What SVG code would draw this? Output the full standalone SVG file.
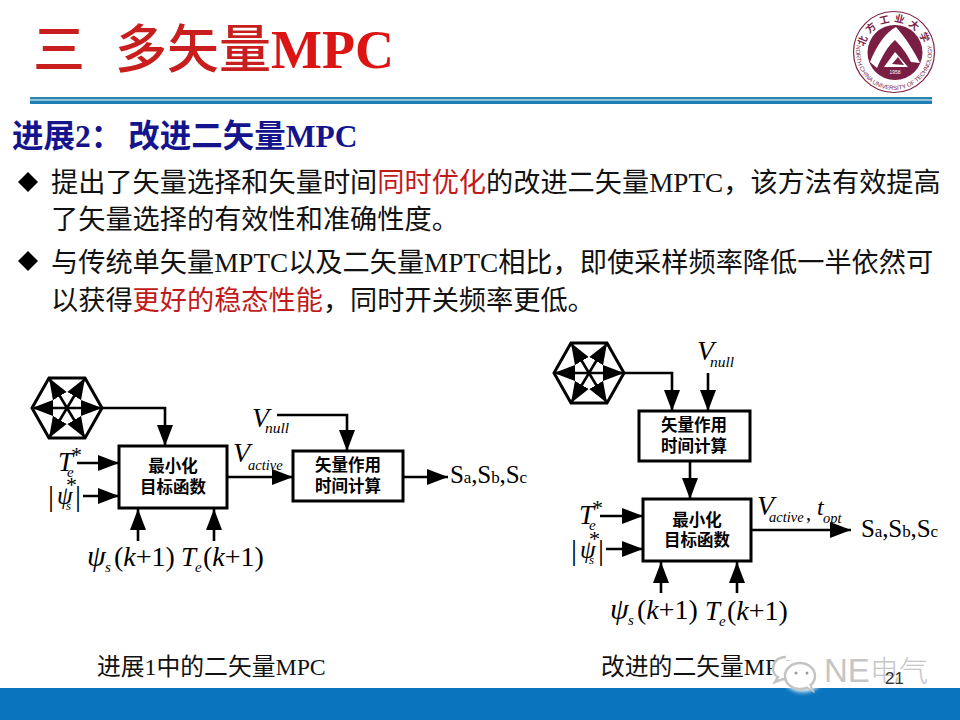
<svg xmlns="http://www.w3.org/2000/svg" width="960" height="720" viewBox="0 0 960 720">
<style>
text{font-family:"Liberation Serif","Noto Sans CJK SC",serif;fill:#000}
.body{font-size:27.2px;fill:#111}
.red{fill:#c21a1a}
.cap{font-size:23.8px;fill:#111}
.box{fill:#fff;stroke:#000;stroke-width:3}
.lbl{font-family:"Noto Sans CJK SC","Liberation Sans",sans-serif;font-size:16.5px;font-weight:700;text-anchor:middle}
.wire{fill:none;stroke:#000;stroke-width:2.6}
.i{font-style:italic}
.m{font-style:italic;font-size:27px}
.p{font-style:italic;font-size:30px}
.q{font-style:italic;font-size:25px}
.s{font-style:italic;font-size:15px}
.nl{font-style:italic;font-size:15.5px}
.ac{font-style:italic;font-size:14.5px}
.n{font-size:28px}
.out{font-size:25px}
.sm{font-size:17px}
.st{font-size:22px}
.bar{font-size:30px}
.hex{fill:none;stroke:#000;stroke-width:3}
</style>
<defs>
<marker id="ah" markerUnits="userSpaceOnUse" markerWidth="22" markerHeight="18" viewBox="0 -9 22 18" refX="21" refY="0" orient="auto"><path d="M0,-8L21,0L0,8Z" fill="#000"/></marker>
<g id="hexagon">
<polygon class="hex" points="-35,0 -18,-30 18,-30 35,0 18,30 -18,30"/>
<g class="wire">
<path d="M0,0L-35,0" marker-end="url(#ah)"/><path d="M0,0L35,0" marker-end="url(#ah)"/>
<path d="M0,0L-18,-30" marker-end="url(#ah)"/><path d="M0,0L18,-30" marker-end="url(#ah)"/>
<path d="M0,0L-18,30" marker-end="url(#ah)"/><path d="M0,0L18,30" marker-end="url(#ah)"/>
</g>
</g>
<path id="logoTop" d="M864.400,57A30,30 0 1 1 923.600,57"/>
<path id="logoBot" d="M857.100,42.800A38,38 0 1 0 930.900,42.800"/>
<filter id="blur" x="-30%" y="-30%" width="160%" height="160%"><feGaussianBlur stdDeviation="2"/></filter>
</defs>
<rect width="960" height="720" fill="#fff"/>

<text id="title" x="33" y="68" font-size="52" font-weight="500" style="fill:#c81e1e">三<tspan dx="30">多矢量</tspan><tspan font-weight="700" font-size="54" style="fill:#dc1414">MPC</tspan></text>
<g id="rule">
<rect x="30" y="97" width="902" height="2.500" fill="#2a86ad"/>
<rect x="30" y="100.500" width="902" height="3.500" fill="#1f7fb4"/>
</g>
<g id="logo">
<circle cx="894" cy="52" r="40.500" fill="#fff" stroke="#7d2348" stroke-width="1.200"/>
<circle cx="895" cy="52.500" r="27.500" fill="#7a1e44"/>
<path d="M870,62C877,45 886,32 896,27C905,37 914,51 920,63L911,62C906,52 900,45 895,40C888,46 882,56 877,68Z" fill="#fff"/>
<path d="M884,67L895,52L908,67Z" fill="#fff"/>
<path d="M892,64L898,57L904,65Z" fill="#7a1e44"/>
<text font-size="10" font-weight="700" style="fill:#7a1e44"><textPath href="#logoTop" startOffset="50%" text-anchor="middle" letter-spacing="4">北方工业大学</textPath></text>
<text font-size="6" style="fill:#7a1e44;font-family:'Liberation Sans',sans-serif"><textPath href="#logoBot" startOffset="50%" text-anchor="middle">NORTH CHINA UNIVERSITY OF TECHNOLOGY</textPath></text>
<text x="895" y="74" font-size="5" text-anchor="middle" style="fill:#7a1e44;font-family:'Liberation Sans',sans-serif"><tspan style="fill:#fff">1958</tspan></text>
</g>

<text id="heading" x="12" y="147" font-size="31.500" font-weight="700" style="fill:#14148c">进展2：<tspan dx="6">改进二矢量MPC</tspan></text>

<g id="bullets">
<path d="M28,172L38,182L28,192L18,182Z" fill="#000"/>
<text class="body" x="51" y="192">提出了矢量选择和矢量时间<tspan class="red" style="fill:#c21a1a">同时优化</tspan>的改进二矢量MPTC，该方法有效提高</text>
<text class="body" x="51" y="229">了矢量选择的有效性和准确性度。</text>
<path d="M28,251L38,261L28,271L18,261Z" fill="#000"/>
<text class="body" x="51" y="272">与传统单矢量MPTC以及二矢量MPTC相比，即使采样频率降低一半依然可</text>
<text class="body" x="51" y="310">以获得<tspan class="red" style="fill:#c21a1a">更好的稳态性能</tspan>，同时开关频率更低。</text>
</g>

<g id="connectors">
<path class="wire" d="M102,408H165V446" marker-end="url(#ah)"/>
<path class="wire" d="M77,463H119" marker-end="url(#ah)"/>
<path class="wire" d="M83,496H119" marker-end="url(#ah)"/>
<path class="wire" d="M138,541V509" marker-end="url(#ah)"/>
<path class="wire" d="M214,541V509" marker-end="url(#ah)"/>
<path class="wire" d="M227,477H293" marker-end="url(#ah)"/>
<path class="wire" d="M277,415H347V451" marker-end="url(#ah)"/>
<path class="wire" d="M403,477H448" marker-end="url(#ah)"/>
<path class="wire" d="M625,373H672V411" marker-end="url(#ah)"/>
<path class="wire" d="M708,373V411" marker-end="url(#ah)"/>
<path class="wire" d="M690,461V499" marker-end="url(#ah)"/>
<path class="wire" d="M600,516H643" marker-end="url(#ah)"/>
<path class="wire" d="M606,549H643" marker-end="url(#ah)"/>
<path class="wire" d="M661,593V562" marker-end="url(#ah)"/>
<path class="wire" d="M737,593V562" marker-end="url(#ah)"/>
<path class="wire" d="M751,530H851" marker-end="url(#ah)"/>
</g>

<g id="hex-left"><use href="#hexagon" transform="translate(67,408)"/></g>
<g id="min-left"><rect class="box" x="119" y="446" width="108" height="62"/><text class="lbl" x="173" y="472">最小化</text><text class="lbl" x="173" y="493">目标函数</text></g>
<g id="time-left"><rect class="box" x="293" y="451" width="110" height="50"/><text class="lbl" x="348" y="471">矢量作用</text><text class="lbl" x="348" y="492">时间计算</text></g>

<g id="hex-right"><use href="#hexagon" transform="translate(589,373)"/></g>
<g id="time-right"><rect class="box" x="639" y="411" width="111" height="50"/><text class="lbl" x="694" y="431">矢量作用</text><text class="lbl" x="694" y="452">时间计算</text></g>
<g id="min-right"><rect class="box" x="643" y="499" width="108" height="62"/><text class="lbl" x="697" y="526">最小化</text><text class="lbl" x="697" y="546">目标函数</text></g>

<g id="labels-left">
<text class="m" x="58" y="471">T</text><text class="s" x="67" y="477">e</text><text class="st" x="71" y="462">*</text>
<text class="bar" x="48" y="506">|</text><text class="q" x="57" y="504">ψ</text><text class="s" x="66" y="510" style="font-size:13px">s</text><text class="st" x="66" y="492">*</text><text class="bar" x="75" y="506">|</text>
<text class="p" x="87" y="566">ψ</text><text class="s" x="105" y="572">s</text>
<text class="n" x="114" y="566">(<tspan class="i">k</tspan>+1)</text>
<text class="m" x="181" y="566">T</text><text class="s" x="195" y="572">e</text>
<text class="n" x="203" y="566">(<tspan class="i">k</tspan>+1)</text>
<text class="i" x="252" y="427" font-size="28">V</text><text class="nl" x="265" y="433">null</text>
<text class="i" x="233" y="462" font-size="28">V</text><text class="ac" x="248" y="470">active</text>
<text class="out" x="450" y="483" textLength="77">S<tspan class="sm">a</tspan>,S<tspan class="sm">b</tspan>,S<tspan class="sm">c</tspan></text>
</g>
<g id="labels-right">
<text class="i" x="697" y="360" font-size="28">V</text><text class="nl" x="710" y="367">null</text>
<text class="m" x="579" y="524">T</text><text class="s" x="589" y="530">e</text><text class="st" x="592" y="515">*</text>
<text class="bar" x="571" y="560">|</text><text class="q" x="580" y="558">ψ</text><text class="s" x="589" y="564" style="font-size:13px">s</text><text class="st" x="589" y="546">*</text><text class="bar" x="598" y="560">|</text>
<text class="p" x="610" y="619">ψ</text><text class="s" x="628" y="625">s</text>
<text class="n" x="637" y="619">(<tspan class="i">k</tspan>+1)</text>
<text class="m" x="705" y="620">T</text><text class="s" x="719" y="626">e</text>
<text class="n" x="727" y="620">(<tspan class="i">k</tspan>+1)</text>
<text class="i" x="757" y="515" font-size="28">V</text><text class="ac" x="769" y="522">active</text><text x="806" y="520" font-size="20">,</text><text class="i" x="817" y="515" font-size="24">t</text><text class="ac" x="823" y="523">opt</text>
<text class="out" x="861" y="537" textLength="77">S<tspan class="sm">a</tspan>,S<tspan class="sm">b</tspan>,S<tspan class="sm">c</tspan></text>
</g>

<text id="caption-left" class="cap" x="97" y="675">进展1中的二矢量MPC</text>
<text id="caption-right" class="cap" x="601" y="675">改进的二矢量MPC</text>

<rect id="footer" x="0" y="688" width="960" height="32" fill="#0b74bf"/>

<g id="watermark">
<ellipse cx="803" cy="672" rx="22" ry="20" fill="#fff" opacity=".95" filter="url(#blur)"/>
<path d="M786,657C776,657 773,664 773,669C773,673 776,676 778,677L775,682L783,679C785,680 787,680 789,680" fill="#fff" stroke="#c4c4c4" stroke-width="2.500"/>
<ellipse cx="800" cy="676" rx="15" ry="13" fill="#fff" stroke="#c4c4c4" stroke-width="2.500"/>
<path d="M806,687L813,691L810,684" fill="#fff" stroke="#c4c4c4" stroke-width="2"/>
<circle cx="796" cy="673" r="1.500" fill="#999"/><circle cx="807" cy="673" r="1.500" fill="#999"/>
<text x="824" y="682" font-size="33" style="fill:#c6c6c6;font-family:'Liberation Sans',sans-serif">NE</text>
<text x="870" y="682" font-size="29" style="fill:#c6c6c6;font-family:'Noto Sans CJK SC',sans-serif;font-weight:300">电气</text>
</g>
<text id="page" x="885" y="684" font-size="17" style="fill:#333;font-family:'Liberation Sans',sans-serif">21</text>
</svg>
